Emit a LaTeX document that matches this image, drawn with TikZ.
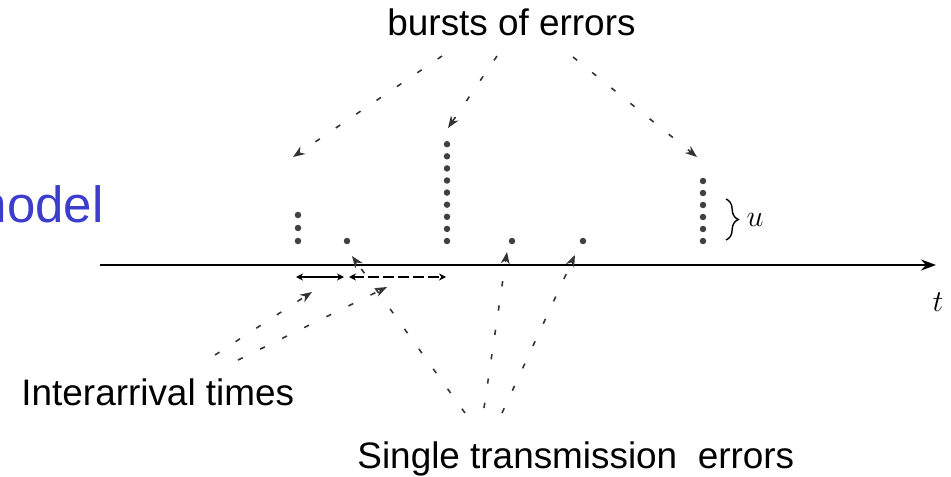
\documentclass[tikz,border=0pt]{standalone}
\usepackage{fontspec}
\setmainfont{Liberation Sans}
\usetikzlibrary{arrows.meta,decorations.pathreplacing}
\definecolor{modelblue}{RGB}{60,60,205}
\tikzset{
  >={Stealth[length=2.4mm,width=1.8mm]},
  d/.style={circle,fill=black!75,inner sep=1.3pt},
  txt/.style={font=\fontsize{21}{21}\selectfont,inner sep=0pt},
  pt/.style={->,black!80,line width=0.9pt,dash pattern=on 3pt off 11pt},
  gap/.style={{Stealth[length=1.4mm,width=1.4mm]}-{Stealth[length=1.4mm,width=1.4mm]},line width=0.8pt},
  every picture/.style={line width=0.5pt},
}

\begin{document}
\begin{tikzpicture}[x=0.02cm,y=-0.02cm]
\useasboundingbox (0,0) rectangle (951,477);
% labels
\node[txt,anchor=base west] (burst) at (387,35) {bursts of errors};
\node[txt,anchor=base west] (inter) at (21,405) {Interarrival times};
\node[txt,anchor=base west] (single) at (357,468) {Single transmission~~errors};
\node[txt,anchor=base east,text=modelblue,font=\fontsize{29}{29}\selectfont] (model) at (104,222) {model};
% time axis
\coordinate (t0) at (100,265);
\coordinate (t1) at (936,265);
\draw[line width=1pt,-{Stealth[length=3mm,width=2.2mm]}] (t0) -- (t1);
\node[font=\fontsize{17}{17}\selectfont] (tl) at (938,302) {$t$};
% errors
\foreach \i in {0,1,2} \node[d] (a\i) at (298,241-13*\i) {};
\foreach \i in {0,...,8} \node[d] (b\i) at (447,241-12.1*\i) {};
\foreach \i in {0,...,5} \node[d] (c\i) at (703,241-12*\i) {};
\node[d] (s1) at (347,241) {};
\node[d] (s2) at (512,241) {};
\node[d] (s3) at (583,241) {};
% burst length
\coordinate (u0) at (726,199);
\coordinate (u1) at (726,240);
\draw[line width=0.8pt,decorate,decoration={brace,amplitude=7pt}] (u0) -- node[right=8pt,font=\fontsize{17}{17}\selectfont] (ul) {$u$} (u1);
% interarrival times
\coordinate (g0) at (296,277);
\coordinate (g1) at (344,277);
\coordinate (g2) at (349,277);
\coordinate (g3) at (446,277);
\draw[gap] (g0) -- (g1);
\draw[gap,dash pattern=on 6pt off 2.5pt] (g2) -- (g3);
% pointers
\coordinate (p1) at (442,56);
\coordinate (p2) at (497,56);
\coordinate (p3) at (573,57);
\coordinate (q1) at (293,157);
\coordinate (q2) at (448,128);
\coordinate (q3) at (697,157);
\draw[pt] (p1) -- (q1);
\draw[pt] (p2) -- (q2);
\draw[pt] (p3) -- (q3);
\coordinate (i1) at (215,355);
\coordinate (i2) at (238,360);
\coordinate (j1) at (312,292);
\coordinate (j2) at (387,287);
\draw[pt] (i1) -- (j1);
\draw[pt] (i2) -- (j2);
\coordinate (r1) at (465,413);
\coordinate (r2) at (484,408);
\coordinate (r3) at (502,413);
\coordinate (k1) at (352,256);
\coordinate (k2) at (507,252);
\coordinate (k3) at (575,255);
\draw[pt] (r1) -- (k1);
\draw[pt] (r2) -- (k2);
\draw[pt] (r3) -- (k3);
\end{tikzpicture}
\end{document}
